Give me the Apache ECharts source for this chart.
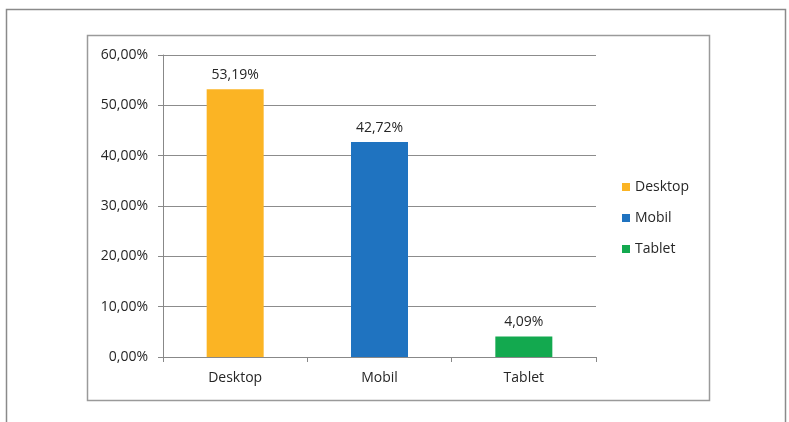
<!DOCTYPE html>
<html>
<head>
<meta charset="utf-8">
<script src="https://cdn.jsdelivr.net/npm/echarts@6/dist/echarts.min.js"></script>
<style>
html,body{margin:0;padding:0;background:#fff;}
#c{width:789px;height:422px;}
</style>
</head>
<body>
<div id="c"></div>
<script>
var categories = ['Desktop', 'Mobil', 'Tablet'];
var values = [53.19, 42.72, 4.09];
var colors = ['#FBB424', '#1F73C0', '#13A94F'];
var yTicks = [0, 10, 20, 30, 40, 50, 60];

function fmt(v) { return v.toFixed(2).replace('.', ',') + '%'; }

var font = 'Open Sans';
var txt = '#262626';
var chart = echarts.init(document.getElementById('c'), null, {renderer: 'canvas'});

var series = categories.map(function (name, i) {
  var data = categories.map(function (c, j) { return j === i ? values[i] : '-'; });
  return {
    name: name,
    type: 'bar',
    stack: 'all',
    barWidth: 57,
    data: data,
    itemStyle: {color: colors[i]},
    label: {
      show: true,
      position: 'top',
      distance: 7,
      color: txt,
      fontFamily: font,
      fontSize: 14,
      formatter: function (p) { return fmt(p.value); }
    }
  };
});

chart.setOption({
  animation: false,
  backgroundColor: '#fff',
  graphic: [
    {type: 'rect', shape: {x: 6.5, y: 9.5, width: 779, height: 430}, style: {fill: 'none', stroke: '#8a8a8a', lineWidth: 1.5}, silent: true, z: -10},
    {type: 'rect', shape: {x: 87.5, y: 35.5, width: 622, height: 365}, style: {fill: 'none', stroke: '#9a9a9a', lineWidth: 1.5}, silent: true, z: -10}
  ],
  grid: {left: 163, right: 193, top: 55, bottom: 65},
  legend: {
    orient: 'vertical',
    left: 617,
    top: 175,
    itemWidth: 8,
    itemHeight: 8,
    itemGap: 17,
    icon: 'rect',
    textStyle: {color: txt, fontFamily: font, fontSize: 14, padding: [0, 0, 0, 0]},
    data: categories
  },
  xAxis: {
    type: 'category',
    data: categories,
    axisLine: {lineStyle: {color: '#888', width: 1}},
    axisTick: {show: true, length: 5, lineStyle: {color: '#888'}},
    axisLabel: {color: txt, fontFamily: font, fontSize: 14, margin: 14}
  },
  yAxis: {
    type: 'value',
    min: yTicks[0],
    max: yTicks[yTicks.length - 1],
    interval: 10,
    axisLine: {show: true, lineStyle: {color: '#888', width: 1}},
    axisTick: {show: true, length: 5, lineStyle: {color: '#888'}},
    splitLine: {show: true, lineStyle: {color: '#8c8c8c', width: 1}},
    axisLabel: {color: txt, fontFamily: font, fontSize: 14, margin: 15, formatter: fmt}
  },
  series: series
});
</script>
</body>
</html>
